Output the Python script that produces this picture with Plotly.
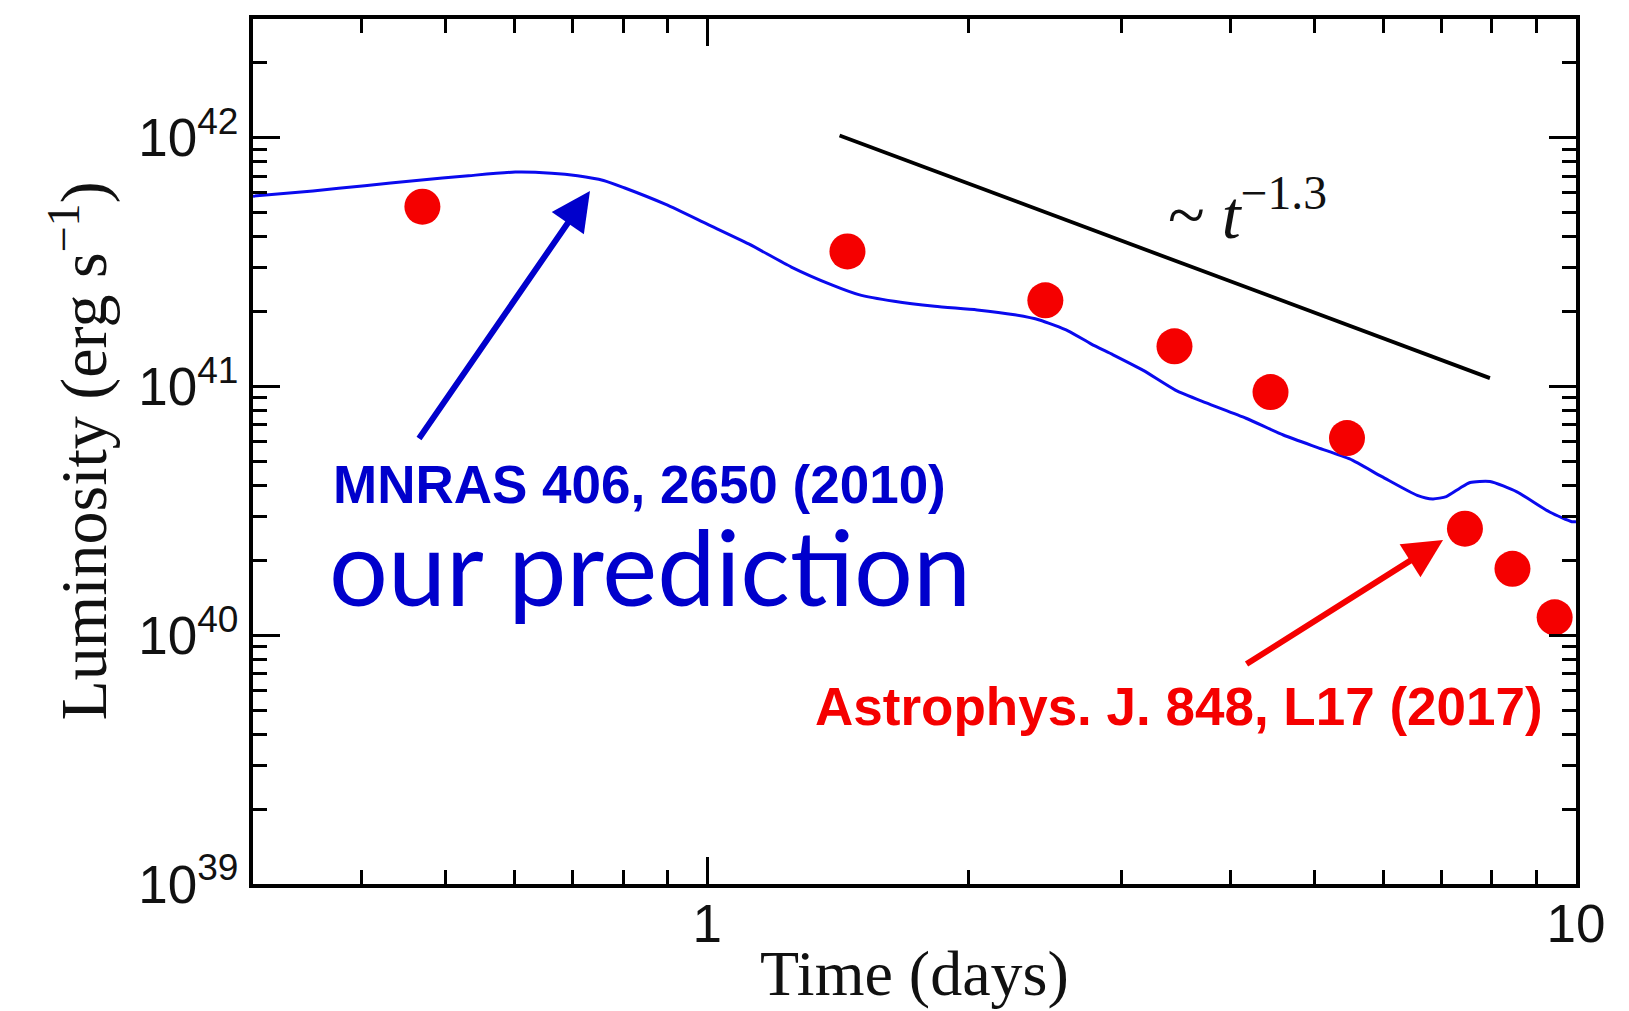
import plotly.graph_objects as go

# Model light curve (blue line)
model_days = [0.30, 0.3516, 0.4034, 0.4627, 0.5311, 0.6012, 0.6618, 0.7090, 0.7596, 0.8023,
              0.8959, 1.0, 1.116, 1.2497, 1.391, 1.494, 1.641, 1.827, 2.045, 2.258,
              2.412, 2.605, 2.768, 2.932, 3.176, 3.458, 3.746, 4.170, 4.604, 5.042,
              5.489, 5.978, 6.565, 6.842, 7.091, 7.349, 7.553, 7.961, 8.551, 9.336,
              9.890, 10.0]
model_lum = [5.82e41, 6.11e41, 6.41e41, 6.73e41, 7.03e41, 7.27e41, 7.20e41, 7.03e41, 6.73e41, 6.29e41,
             5.39e41, 4.49e41, 3.74e41, 3.02e41, 2.56e41, 2.34e41, 2.20e41, 2.10e41, 2.03e41, 1.94e41,
             1.85e41, 1.67e41, 1.48e41, 1.34e41, 1.16e41, 9.67e40, 8.61e40, 7.45e40, 6.38e40, 5.68e40,
             5.11e40, 4.34e40, 3.65e40, 3.53e40, 3.61e40, 3.90e40, 4.11e40, 4.15e40, 3.77e40, 3.12e40,
             2.86e40, 2.86e40]

# Observed bolometric luminosities (red dots)
obs_days = [0.47, 1.45, 2.45, 3.45, 4.45, 5.45, 7.45, 8.45, 9.45]
obs_lum = [5.28e41, 3.49e41, 2.22e41, 1.45e41, 9.49e40, 6.2e40, 2.68e40, 1.85e40, 1.18e40]

# Reference power-law segment, ~ t^-1.3
slope_days = [1.42, 7.96]
slope_lum = [1.02e42, 1.08e41]

# Axis ticks
x_major = [1, 10]
x_major_text = ["1", "10"]
x_minor = [0.4, 0.5, 0.6, 0.7, 0.8, 0.9, 2, 3, 4, 5, 6, 7, 8, 9]
y_major = [1e39, 1e40, 1e41, 1e42]
y_major_text = ["10<sup>39</sup>", "10<sup>40</sup>", "10<sup>41</sup>", "10<sup>42</sup>"]
y_minor = [m * 10.0 ** e for e in (39, 40, 41) for m in range(2, 10)] + [2e42]

BLUE = "#0a0aee"
LABEL_BLUE = "#0000cc"
RED = "#f50000"

fig = go.Figure()
fig.add_trace(go.Scatter(x=model_days, y=model_lum, mode="lines",
                         line=dict(color=BLUE, width=3, shape="spline", smoothing=0.6),
                         showlegend=False, hoverinfo="skip"))
fig.add_trace(go.Scatter(x=slope_days, y=slope_lum, mode="lines",
                         line=dict(color="black", width=3.8),
                         showlegend=False, hoverinfo="skip"))
fig.add_trace(go.Scatter(x=obs_days, y=obs_lum, mode="markers",
                         marker=dict(color=RED, size=36, line=dict(width=0)),
                         cliponaxis=True, showlegend=False, hoverinfo="skip"))

axis_common = dict(
    type="log", showgrid=False, zeroline=False,
    showline=True, linecolor="black", linewidth=4, mirror="allticks",
    ticks="inside", ticklen=27, tickwidth=2.5, tickcolor="black",
    tickmode="array",
    tickfont=dict(family="Liberation Sans, Arial, sans-serif", size=53, color="#111"),
)

fig.update_xaxes(**axis_common, range=[-0.5229, 1.0], tickvals=x_major, ticktext=x_major_text,
                 ticklabelstandoff=-10,
                 minor=dict(tickmode="array", tickvals=x_minor, ticks="inside",
                            ticklen=14, tickwidth=2.5, tickcolor="black"))
fig.update_yaxes(**axis_common, range=[39, 42.477], tickvals=y_major, ticktext=y_major_text,
                 minor=dict(tickmode="array", tickvals=y_minor, ticks="inside",
                            ticklen=14, tickwidth=2.5, tickcolor="black"))

serif = "Liberation Serif, Times New Roman, serif"
sans = "Liberation Sans, Arial, sans-serif"

annotations = [
    # axis titles
    dict(text="Time (days)", x=0.5, y=-0.103, xref="paper", yref="paper",
         xanchor="center", yanchor="middle", showarrow=False,
         font=dict(family=serif, size=64, color="#111")),
    dict(text="Luminosity (erg s<sup>−1</sup>)", x=-0.1315, y=0.5, xref="paper", yref="paper",
         xanchor="center", yanchor="middle", textangle=-90, showarrow=False,
         font=dict(family=serif, size=66, color="#111")),
    # power-law label
    dict(text="~ <i>t</i><sup>−1.3</sup>", x=0.752, y=0.779, xref="paper", yref="paper",
         xanchor="center", yanchor="middle", showarrow=False,
         font=dict(family=serif, size=68, color="#111")),
    # model reference and caption
    dict(text="<b>MNRAS 406, 2650 (2010)</b>", x=0.2921, y=0.4624, xref="paper", yref="paper",
         xanchor="center", yanchor="middle", showarrow=False,
         font=dict(family=sans, size=53, color=LABEL_BLUE)),
    dict(text="our prediction", x=0.3000, y=0.368, xref="paper", yref="paper",
         xanchor="center", yanchor="middle", showarrow=False,
         font=dict(family="Lato, Open Sans, sans-serif", size=104, color=LABEL_BLUE)),
    # observation reference
    dict(text="<b>Astrophys. J. 848, L17 (2017)</b>", x=0.6996, y=0.2051, xref="paper", yref="paper",
         xanchor="center", yanchor="middle", showarrow=False,
         font=dict(family=sans, size=53, color=RED)),
    # arrows
    dict(text="", x=0.2547, y=0.8012, xref="paper", yref="paper",
         ax=-172, ay=249, axref="pixel", ayref="pixel",
         showarrow=True, arrowhead=2, arrowsize=1.3, arrowwidth=6, arrowcolor=LABEL_BLUE),
    dict(text="", x=0.8995, y=0.3977, xref="paper", yref="paper",
         ax=-198, ay=125, axref="pixel", ayref="pixel",
         showarrow=True, arrowhead=2, arrowsize=1.3, arrowwidth=6, arrowcolor=RED),
]

fig.update_layout(
    width=1629, height=1011,
    margin=dict(l=253, r=53, t=19, b=127),
    paper_bgcolor="white", plot_bgcolor="white",
    annotations=annotations,
    showlegend=False,
)

fig.write_html("out.html")
